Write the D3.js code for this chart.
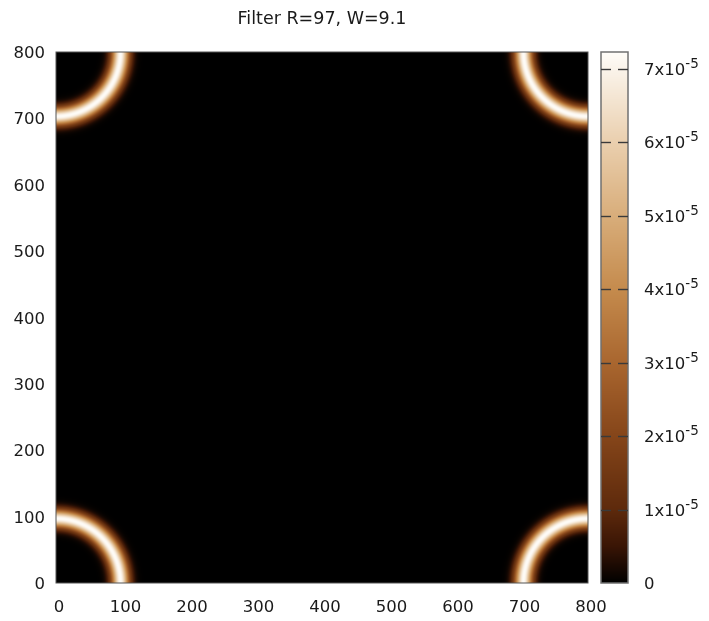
<!DOCTYPE html>
<html>
<head>
<meta charset="utf-8">
<script src="https://cdn.jsdelivr.net/npm/d3@7"></script>
<style>
  html, body { margin: 0; padding: 0; background: #fff; }
  #wrap { position: relative; width: 709px; height: 621px; }
  #wrap canvas, #wrap svg { position: absolute; left: 0; top: 0; }
  text { font-family: "DejaVu Sans", sans-serif; fill: #1a1a1a; }
</style>
</head>
<body>
<div id="wrap"></div>
<script>
// Ring filter parameters (from the title)
const filterR = 97;
const filterW = 9.1;
const gridSize = 800;

// Axis ticks
const xTicks = [0, 100, 200, 300, 400, 500, 600, 700, 800];
const yTicks = [0, 100, 200, 300, 400, 500, 600, 700, 800];
const cbTicks = [0, 1e-5, 2e-5, 3e-5, 4e-5, 5e-5, 6e-5, 7e-5];
const cbMax = 7.23e-5;

// Palette stops (fraction of range -> colour): black, brown, copper, tan, white
const paletteStops = [0, 0.07, 0.14, 0.28, 0.41, 0.55, 0.69, 0.83, 1.0];
const paletteColors = ["#000000", "#3a1505", "#5e2a0c", "#86461a", "#a8652e",
                       "#c48a4c", "#d8ad7a", "#eacfae", "#fefcf8"];

const W = 709, H = 621;
const plot = { left: 56, right: 588, top: 52, bottom: 583 };
const cb = { left: 601, right: 628 };
const fontPx = "16.5px";

const x = d3.scaleLinear().domain([0, gridSize]).range([plot.left, plot.right]);
const y = d3.scaleLinear().domain([0, gridSize]).range([plot.bottom, plot.top]);
const cy = d3.scaleLinear().domain([0, cbMax]).range([plot.bottom, plot.top]);
const color = d3.scaleLinear()
  .domain(paletteStops.map(f => f * cbMax))
  .range(paletteColors)
  .interpolate(d3.interpolateRgb)
  .clamp(true);

// Gaussian ring, normalised to unit sum, periodic in both directions
const norm = 2 * Math.PI * filterR * Math.sqrt(2 * Math.PI) * filterW;
function ringValue(ux, uy) {
  const dx = Math.min(ux, gridSize - ux);
  const dy = Math.min(uy, gridSize - uy);
  const r = Math.sqrt(dx * dx + dy * dy);
  return Math.exp(-((r - filterR) ** 2) / (2 * filterW * filterW)) / norm;
}

const wrap = d3.select("#wrap");
const canvas = wrap.append("canvas").attr("width", W).attr("height", H).node();
const ctx = canvas.getContext("2d");

// Heat map
const pw = plot.right - plot.left, ph = plot.bottom - plot.top;
const img = ctx.createImageData(pw, ph);
for (let j = 0; j < ph; j++) {
  const uy = y.invert(plot.top + j + 0.5);
  for (let i = 0; i < pw; i++) {
    const ux = x.invert(plot.left + i + 0.5);
    const c = d3.rgb(color(ringValue(ux, uy)));
    const k = 4 * (j * pw + i);
    img.data[k] = c.r; img.data[k + 1] = c.g; img.data[k + 2] = c.b; img.data[k + 3] = 255;
  }
}
ctx.putImageData(img, plot.left, plot.top);

// Colour box
for (let py = plot.top; py < plot.bottom; py++) {
  ctx.fillStyle = color(cy.invert(py + 0.5));
  ctx.fillRect(cb.left, py, cb.right - cb.left, 1);
}

const svg = wrap.append("svg").attr("width", W).attr("height", H);

// Title
svg.append("text")
  .attr("x", (plot.left + plot.right) / 2).attr("y", 24)
  .attr("text-anchor", "middle").style("font-size", "17.5px")
  .text(`Filter R=${filterR}, W=${filterW}`);

// Plot border
svg.append("rect")
  .attr("x", plot.left).attr("y", plot.top)
  .attr("width", pw).attr("height", ph)
  .attr("fill", "none").attr("stroke", "#555").attr("stroke-width", 1);

// X axis labels
svg.append("g").selectAll("text").data(xTicks).join("text")
  .attr("x", d => x(d) + 3).attr("y", plot.bottom + 29)
  .attr("text-anchor", "middle").style("font-size", fontPx)
  .text(d => d);

// Y axis labels
svg.append("g").selectAll("text").data(yTicks).join("text")
  .attr("x", plot.left - 11).attr("y", d => y(d) + 6)
  .attr("text-anchor", "end").style("font-size", fontPx)
  .text(d => d);

// Colour box border and ticks
svg.append("rect")
  .attr("x", cb.left).attr("y", plot.top)
  .attr("width", cb.right - cb.left).attr("height", ph)
  .attr("fill", "none").attr("stroke", "#707070").attr("stroke-width", 1.5);

const tickG = svg.append("g").attr("stroke", "#3a3a3a").attr("stroke-width", 1.4);
tickG.selectAll("line.l").data(cbTicks.slice(1)).join("line")
  .attr("x1", cb.left).attr("x2", cb.left + 10)
  .attr("y1", d => Math.round(cy(d)) + 0.5).attr("y2", d => Math.round(cy(d)) + 0.5);
tickG.selectAll("line.r").data(cbTicks.slice(1)).join("line")
  .attr("x1", cb.right - 10).attr("x2", cb.right)
  .attr("y1", d => Math.round(cy(d)) + 0.5).attr("y2", d => Math.round(cy(d)) + 0.5);

// Colour box labels, e.g. 7x10^-5
const cbLabels = svg.append("g").selectAll("text").data(cbTicks).join("text")
  .attr("x", cb.right + 16).attr("y", d => cy(d) + 6)
  .style("font-size", fontPx);
cbLabels.each(function (d) {
  const t = d3.select(this);
  if (d === 0) { t.text("0"); return; }
  const m = Math.round(d / 1e-5);
  t.append("tspan").text(`${m}x10`);
  t.append("tspan").attr("dy", -7).style("font-size", "13.5px").text("-5");
});
</script>
</body>
</html>
